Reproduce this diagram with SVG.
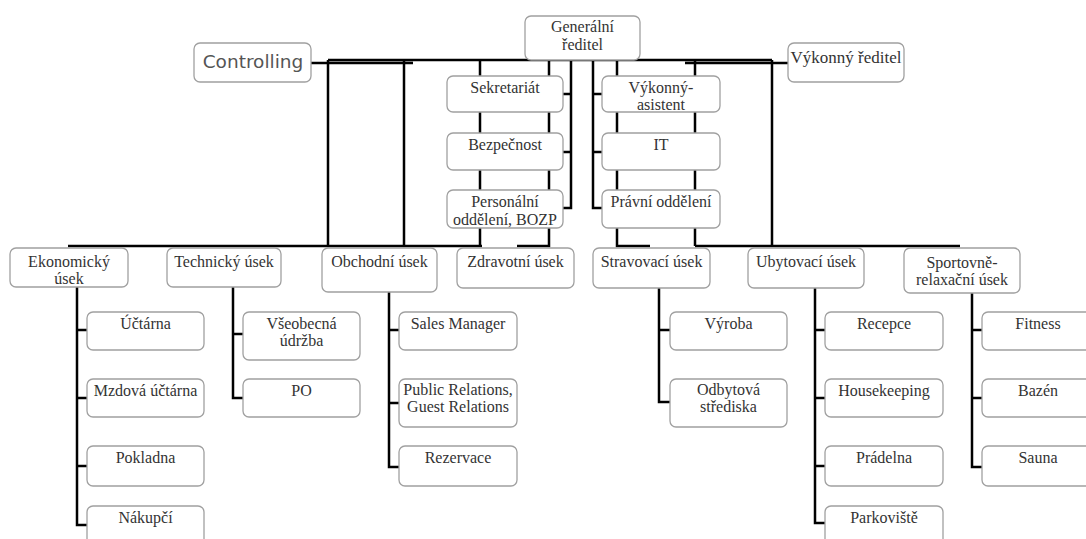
<svg xmlns="http://www.w3.org/2000/svg" width="1086" height="539" viewBox="0 0 1086 539">
<style>
.b{fill:#fff;stroke:#a0a0a0;stroke-width:1.3}
.t{font-family:"Liberation Serif",serif;font-size:16px;fill:#333;text-anchor:middle}
.s{font-family:"DejaVu Sans","Liberation Sans",sans-serif;font-size:18.5px;fill:#555;text-anchor:middle}
.c{fill:none;stroke:#000;stroke-width:2.5}
</style>
<rect width="1086" height="539" fill="#fff"/>
<g id="connectors" class="c">
<path d="M311 63H413M328 60H772M685 63H788"/>
<path d="M328 60V246M404 60V246M480 60V246M549 60V246H517M617 60V246H650M695 60V246M772 60V246"/>
<path d="M571 60V208H563M563 94H571M563 152H571M593 60V208H603M593 94H603M593 152H603"/>
<path d="M68 246H482M695 246H960"/>
<path d="M77 287V525H87M77 330H87M77 398H87M77 466H87"/>
<path d="M233 287V398H243M233 334H243"/>
<path d="M389 292V467H399M389 330H399M389 403H399"/>
<path d="M659 288V402H670M659 330H670"/>
<path d="M815 288V523H825M815 330H825M815 398H825M815 466H825"/>
<path d="M972 293V467H982M972 330H982M972 398H982"/>
</g>
<g id="gen"><rect class="b" x="525" y="16" width="115" height="44" rx="6"/><text class="t" x="582.5" y="32">Generální</text><text class="t" x="582.5" y="50">ředitel</text></g>
<g id="controlling"><rect class="b" x="194" y="43" width="117" height="39" rx="6"/><text class="s" x="253" y="68">Controlling</text></g>
<g id="vykred"><rect class="b" x="788" y="43" width="116" height="39" rx="6"/><text class="t" x="846" y="63" style="font-size:17px">Výkonný ředitel</text></g>
<g id="sekr"><rect class="b" x="447" y="76" width="116" height="36" rx="6"/><text class="t" x="505" y="93">Sekretariát</text></g>
<g id="bezp"><rect class="b" x="447" y="133" width="116" height="37" rx="6"/><text class="t" x="505" y="150">Bezpečnost</text></g>
<g id="pers"><rect class="b" x="447" y="190" width="116" height="38" rx="6"/><text class="t" x="505" y="207">Personální</text><text class="t" x="505" y="225">oddělení, BOZP</text></g>
<g id="vyka"><rect class="b" x="602" y="76" width="118" height="36" rx="6"/><text class="t" x="661" y="93">Výkonný-</text><text class="t" x="661" y="110">asistent</text></g>
<g id="it"><rect class="b" x="602" y="133" width="118" height="37" rx="6"/><text class="t" x="661" y="150">IT</text></g>
<g id="pravni"><rect class="b" x="602" y="190" width="118" height="38" rx="6"/><text class="t" x="661" y="207">Právní oddělení</text></g>
<g id="ekon"><rect class="b" x="10" y="248" width="118" height="39" rx="6"/><text class="t" x="69" y="267">Ekonomický</text><text class="t" x="69" y="284">úsek</text></g>
<g id="tech"><rect class="b" x="167" y="248" width="114" height="39" rx="6"/><text class="t" x="224" y="267">Technický úsek</text></g>
<g id="obch"><rect class="b" x="322" y="248" width="115" height="44" rx="6"/><text class="t" x="379.5" y="267">Obchodní úsek</text></g>
<g id="zdrav"><rect class="b" x="457" y="248" width="117" height="40" rx="6"/><text class="t" x="515.5" y="267">Zdravotní úsek</text></g>
<g id="strav"><rect class="b" x="593" y="248" width="117" height="40" rx="6"/><text class="t" x="651.5" y="267">Stravovací úsek</text></g>
<g id="ubyt"><rect class="b" x="748" y="248" width="116" height="40" rx="6"/><text class="t" x="806" y="267">Ubytovací úsek</text></g>
<g id="sport"><rect class="b" x="904" y="248" width="116" height="45" rx="6"/><text class="t" x="962" y="268">Sportovně-</text><text class="t" x="962" y="285">relaxační úsek</text></g>
<g id="ucet"><rect class="b" x="87" y="312" width="117" height="38" rx="6"/><text class="t" x="145.5" y="329">Účtárna</text></g>
<g id="mzd"><rect class="b" x="87" y="379" width="117" height="38" rx="6"/><text class="t" x="145.5" y="396">Mzdová účtárna</text></g>
<g id="pokl"><rect class="b" x="87" y="446" width="117" height="40" rx="6"/><text class="t" x="145.5" y="463">Pokladna</text></g>
<g id="nakup"><rect class="b" x="87" y="506" width="117" height="40" rx="6"/><text class="t" x="145.5" y="523">Nákupčí</text></g>
<g id="vseob"><rect class="b" x="243" y="312" width="117" height="48" rx="6"/><text class="t" x="301.5" y="329">Všeobecná</text><text class="t" x="301.5" y="346">údržba</text></g>
<g id="po"><rect class="b" x="243" y="379" width="117" height="38" rx="6"/><text class="t" x="301.5" y="396">PO</text></g>
<g id="sales"><rect class="b" x="399" y="312" width="118" height="38" rx="6"/><text class="t" x="458" y="329">Sales Manager</text></g>
<g id="pr"><rect class="b" x="399" y="379" width="118" height="48" rx="6"/><text class="t" x="458" y="395">Public Relations,</text><text class="t" x="458" y="412">Guest Relations</text></g>
<g id="rez"><rect class="b" x="399" y="446" width="118" height="40" rx="6"/><text class="t" x="458" y="463">Rezervace</text></g>
<g id="vyroba"><rect class="b" x="670" y="312" width="117" height="38" rx="6"/><text class="t" x="728.5" y="329">Výroba</text></g>
<g id="odbyt"><rect class="b" x="670" y="379" width="117" height="48" rx="6"/><text class="t" x="728.5" y="395">Odbytová</text><text class="t" x="728.5" y="412">střediska</text></g>
<g id="recepce"><rect class="b" x="825" y="312" width="118" height="38" rx="6"/><text class="t" x="884" y="329">Recepce</text></g>
<g id="house"><rect class="b" x="825" y="379" width="118" height="38" rx="6"/><text class="t" x="884" y="396">Housekeeping</text></g>
<g id="pradelna"><rect class="b" x="825" y="446" width="118" height="40" rx="6"/><text class="t" x="884" y="463">Prádelna</text></g>
<g id="park"><rect class="b" x="825" y="506" width="118" height="40" rx="6"/><text class="t" x="884" y="523">Parkoviště</text></g>
<g id="fitness"><rect class="b" x="982" y="312" width="112" height="38" rx="6"/><text class="t" x="1038" y="329">Fitness</text></g>
<g id="bazen"><rect class="b" x="982" y="379" width="112" height="38" rx="6"/><text class="t" x="1038" y="396">Bazén</text></g>
<g id="sauna"><rect class="b" x="982" y="446" width="112" height="40" rx="6"/><text class="t" x="1038" y="463">Sauna</text></g>
</svg>
